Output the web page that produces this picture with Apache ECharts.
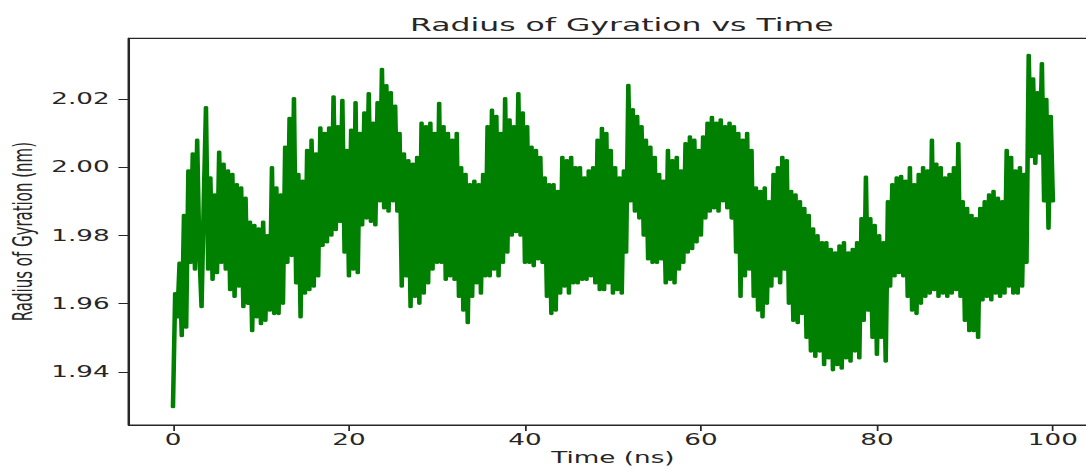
<!DOCTYPE html>
<html>
<head>
<meta charset="utf-8">
<script src="https://cdn.jsdelivr.net/npm/echarts@6/dist/echarts.min.js"></script>
<style>
html,body{margin:0;padding:0;background:#fff;overflow:hidden;width:1086px;height:469px;}
#chart{width:620.57px;height:469px;transform:scaleX(1.75);transform-origin:0 0;}
</style>
</head>
<body>
<div id="chart"></div>
<script>
// Time (ns)
const time = [
0,0.25,0.5,0.75, 1,1.25,1.5,1.75, 2,2.25,2.5,2.75, 3,3.25,3.5,3.75, 4,4.25,4.5,4.75,
5,5.25,5.5,5.75, 6,6.25,6.5,6.75, 7,7.25,7.5,7.75, 8,8.25,8.5,8.75, 9,9.25,9.5,9.75,
10,10.25,10.5,10.75, 11,11.25,11.5,11.75, 12,12.25,12.5,12.75, 13,13.25,13.5,13.75, 14,14.25,14.5,14.75,
15,15.25,15.5,15.75, 16,16.25,16.5,16.75, 17,17.25,17.5,17.75, 18,18.25,18.5,18.75, 19,19.25,19.5,19.75,
20,20.25,20.5,20.75, 21,21.25,21.5,21.75, 22,22.25,22.5,22.75, 23,23.25,23.5,23.75, 24,24.25,24.5,24.75,
25,25.25,25.5,25.75, 26,26.25,26.5,26.75, 27,27.25,27.5,27.75, 28,28.25,28.5,28.75, 29,29.25,29.5,29.75,
30,30.25,30.5,30.75, 31,31.25,31.5,31.75, 32,32.25,32.5,32.75, 33,33.25,33.5,33.75, 34,34.25,34.5,34.75,
35,35.25,35.5,35.75, 36,36.25,36.5,36.75, 37,37.25,37.5,37.75, 38,38.25,38.5,38.75, 39,39.25,39.5,39.75,
40,40.25,40.5,40.75, 41,41.25,41.5,41.75, 42,42.25,42.5,42.75, 43,43.25,43.5,43.75, 44,44.25,44.5,44.75,
45,45.25,45.5,45.75, 46,46.25,46.5,46.75, 47,47.25,47.5,47.75, 48,48.25,48.5,48.75, 49,49.25,49.5,49.75,
50,50.25,50.5,50.75, 51,51.25,51.5,51.75, 52,52.25,52.5,52.75, 53,53.25,53.5,53.75, 54,54.25,54.5,54.75,
55,55.25,55.5,55.75, 56,56.25,56.5,56.75, 57,57.25,57.5,57.75, 58,58.25,58.5,58.75, 59,59.25,59.5,59.75,
60,60.25,60.5,60.75, 61,61.25,61.5,61.75, 62,62.25,62.5,62.75, 63,63.25,63.5,63.75, 64,64.25,64.5,64.75,
65,65.25,65.5,65.75, 66,66.25,66.5,66.75, 67,67.25,67.5,67.75, 68,68.25,68.5,68.75, 69,69.25,69.5,69.75,
70,70.25,70.5,70.75, 71,71.25,71.5,71.75, 72,72.25,72.5,72.75, 73,73.25,73.5,73.75, 74,74.25,74.5,74.75,
75,75.25,75.5,75.75, 76,76.25,76.5,76.75, 77,77.25,77.5,77.75, 78,78.25,78.5,78.75, 79,79.25,79.5,79.75,
80,80.25,80.5,80.75, 81,81.25,81.5,81.75, 82,82.25,82.5,82.75, 83,83.25,83.5,83.75, 84,84.25,84.5,84.75,
85,85.25,85.5,85.75, 86,86.25,86.5,86.75, 87,87.25,87.5,87.75, 88,88.25,88.5,88.75, 89,89.25,89.5,89.75,
90,90.25,90.5,90.75, 91,91.25,91.5,91.75, 92,92.25,92.5,92.75, 93,93.25,93.5,93.75, 94,94.25,94.5,94.75,
95,95.25,95.5,95.75, 96,96.25,96.5,96.75, 97,97.25,97.5,97.75, 98,98.25,98.5,98.75, 99,99.25,99.5,99.75,
100
];

// Radius of gyration (nm)
const rg = [
1.9297,1.963,1.956,1.972, 1.9505,1.986,1.953,1.999, 1.972,2.004,1.970,2.008, 1.975,1.959,1.990,2.0176, 1.970,1.997,1.967,1.992,
1.969,2.0045,1.972,2.001, 1.970,1.999,1.964,1.998, 1.962,1.995,1.965,1.994, 1.959,1.991,1.960,1.984, 1.952,1.983,1.956,1.982,
1.954,1.984,1.955,1.980, 1.958,2.000,1.957,1.994, 1.957,1.992,1.960,2.006, 1.972,2.0144,1.974,2.0202, 1.966,1.998,1.956,1.996,
1.963,2.005,1.964,2.008, 1.965,2.004,1.968,2.0116, 1.977,2.010,1.978,2.0116, 1.980,2.0207,1.9816,2.012, 1.984,2.0197,1.975,2.005,
1.968,2.011,1.970,2.019, 1.969,2.010,1.983,2.016, 1.985,2.0217,1.984,2.013, 1.983,2.019,1.990,2.0288, 1.988,2.024,1.987,2.022,
1.990,2.018,1.987,2.010, 1.965,2.004,1.968,2.002, 1.959,2.001,1.962,2.003, 1.960,2.013,1.963,2.012, 1.966,2.013,1.970,2.010,
1.972,2.0188,1.972,2.012, 1.967,2.010,1.968,2.008, 1.967,2.010,1.962,2.000, 1.958,1.998,1.9543,1.995, 1.962,1.996,1.966,1.995,
1.963,1.998,1.968,2.012, 1.968,2.0168,1.970,2.015, 1.968,2.010,1.972,2.0202, 1.975,2.014,1.980,2.012, 1.981,2.0217,1.980,2.016,
1.972,2.012,1.972,2.006, 1.971,2.005,1.973,2.003, 1.972,1.997,1.962,1.995, 1.957,1.995,1.958,1.993, 1.963,2.003,1.965,2.002,
1.963,2.003,1.966,2.000, 1.966,2.000,1.967,1.997, 1.967,1.999,1.968,2.000, 1.966,2.008,1.964,2.0115, 1.964,2.010,1.966,2.005,
1.963,2.000,1.964,1.997, 1.963,1.999,1.975,2.0241, 1.990,2.017,1.987,2.015, 1.985,2.012,1.980,2.008, 1.973,2.006,1.972,2.003,
1.972,1.998,1.973,1.996, 1.966,2.005,1.967,2.002, 1.966,2.003,1.970,1.999, 1.972,2.007,1.975,2.009, 1.976,2.008,1.978,2.005,
1.980,2.009,1.985,2.013, 1.987,2.0147,1.988,2.013, 1.987,2.014,1.990,2.012, 1.988,2.013,1.985,2.012, 1.975,2.010,1.962,2.008,
1.968,2.010,1.970,2.005, 1.962,1.994,1.958,1.993, 1.956,1.994,1.960,1.990, 1.965,1.998,1.968,2.000, 1.966,2.003,1.970,2.002,
1.960,1.993,1.955,1.992, 1.9543,1.990,1.957,1.988, 1.950,1.986,1.946,1.982, 1.9444,1.980,1.946,1.978, 1.942,1.978,1.944,1.976,
1.9405,1.975,1.942,1.977, 1.941,1.978,1.944,1.975, 1.943,1.976,1.946,1.978, 1.944,1.985,1.955,1.9972, 1.958,1.985,1.950,1.983,
1.945,1.980,1.950,1.978, 1.943,1.990,1.965,1.995, 1.968,1.997,1.969,1.9974, 1.968,1.996,1.962,2.000, 1.958,1.995,1.957,1.998,
1.960,2.000,1.962,1.999, 1.963,2.008,1.964,2.001, 1.962,2.000,1.963,1.997, 1.962,1.998,1.963,2.000, 1.964,2.007,1.962,1.990,
1.955,1.988,1.952,1.986, 1.952,1.985,1.950,1.988, 1.961,1.990,1.962,1.992, 1.961,1.993,1.963,1.991, 1.962,1.990,1.963,2.005,
1.965,2.003,1.963,1.999, 1.963,2.000,1.965,1.998, 1.972,2.0329,2.003,2.026, 2.001,2.022,2.004,2.0305, 1.990,2.020,1.982,2.015,
1.990
];

const xTicks = [0, 20, 40, 60, 80, 100];
const yTicks = [1.94, 1.96, 1.98, 2.00, 2.02];

const FONT = 'DejaVu Sans';
const INK = '#262626';

const chart = echarts.init(document.getElementById('chart'), null, {renderer: 'svg'});
chart.setOption({
  animation: false,
  backgroundColor: '#ffffff',
  title: {
    text: 'Radius of Gyration vs Time',
    left: 350.3, top: 11, textAlign: 'center',
    textStyle: {fontFamily: FONT, fontSize: 18, fontWeight: 'normal', color: INK}
  },
  grid: {
    left: 73.7, top: 38.3, width: 553.1, height: 386.7,
    outerBoundsMode: 'none', containLabel: false,
    show: true, borderColor: INK, borderWidth: 1.2, backgroundColor: 'transparent'
  },
  xAxis: {
    type: 'value', min: -5, max: 105,
    name: 'Time (ns)', nameLocation: 'middle', nameGap: 25, nameMoveOverlap: false,
    nameTextStyle: {fontFamily: FONT, fontSize: 15, color: INK},
    axisLine: {show: true, onZero: false, lineStyle: {color: INK, width: 1.2}},
    axisTick: {show: true, length: 6, customValues: xTicks, lineStyle: {color: INK, width: 1}},
    axisLabel: {customValues: xTicks, margin: 7, fontFamily: FONT, fontSize: 15, color: INK},
    splitLine: {show: false}
  },
  yAxis: {
    type: 'value', min: 1.9244, max: 2.0378,
    name: 'Radius of Gyration (nm)', nameLocation: 'middle', nameGap: 53, nameRotate: 90,
    nameMoveOverlap: false,
    nameTextStyle: {fontFamily: FONT, fontSize: 15, color: INK},
    axisLine: {show: true, onZero: false, lineStyle: {color: INK, width: 1.2}},
    axisTick: {show: true, length: 6, customValues: yTicks, lineStyle: {color: INK, width: 1}},
    axisLabel: {customValues: yTicks, margin: 11, fontFamily: FONT, fontSize: 15, color: INK,
      formatter: v => v.toFixed(2)},
    splitLine: {show: false}
  },
  series: [{
    type: 'line',
    data: time.map((t, i) => [t, rg[i]]),
    showSymbol: false,
    symbol: 'none',
    sampling: 'none',
    clip: true,
    lineStyle: {color: '#008000', width: 2.6, join: 'round', cap: 'round'}
  }]
});
</script>
</body>
</html>
